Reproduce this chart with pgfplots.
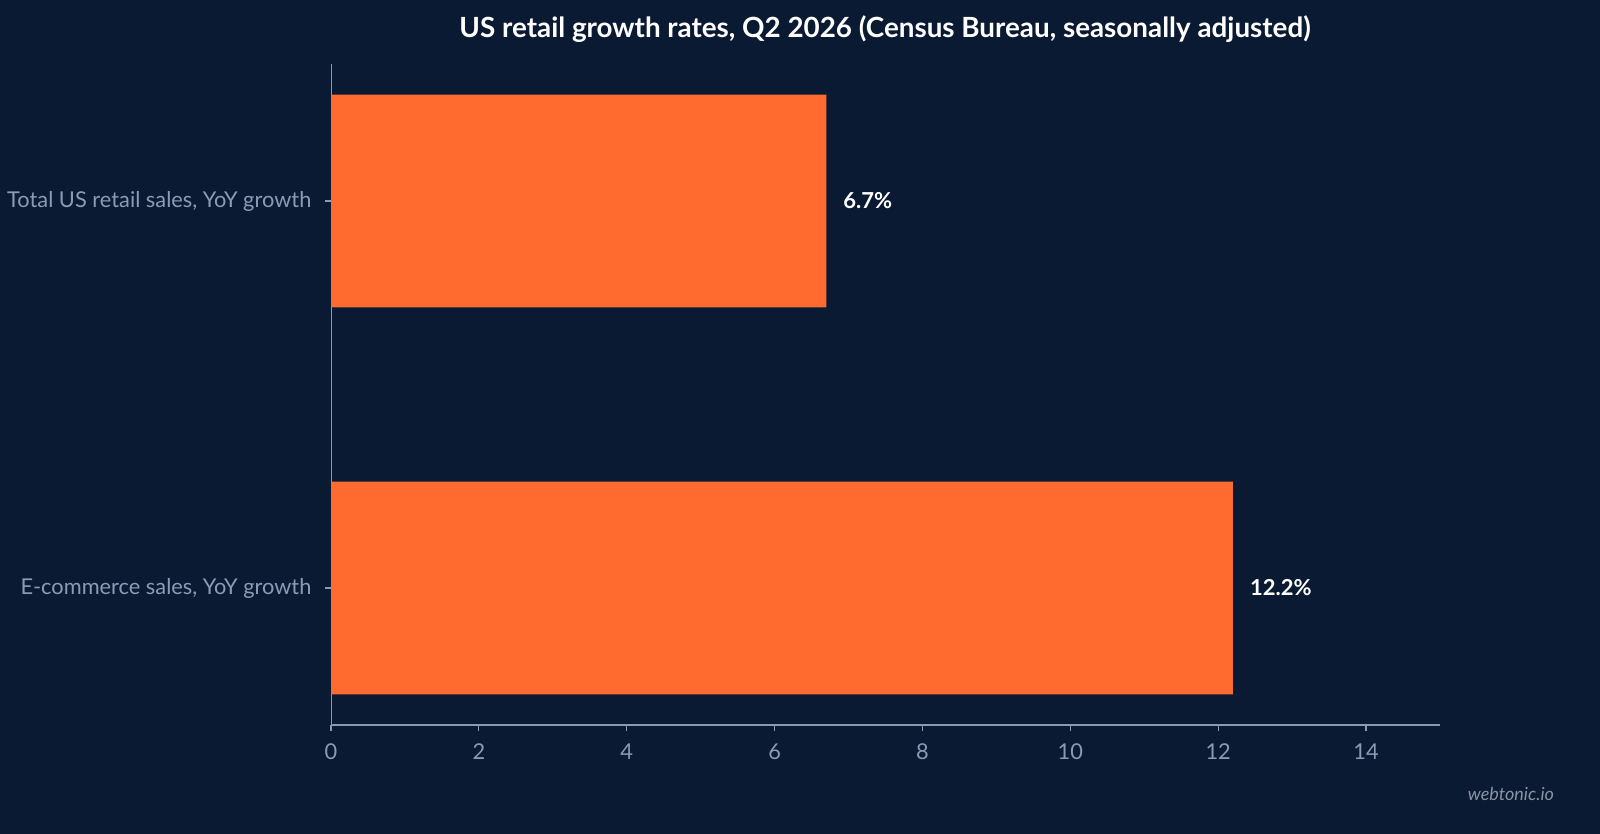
\documentclass[border=0pt]{standalone}
\usepackage{pgfplots}
\pgfplotsset{compat=1.18}
\usepackage{fontspec}
\setmainfont{Lato}
\definecolor{bg}{HTML}{0B1A33}
\definecolor{barc}{HTML}{FF6B2E}
\definecolor{tickc}{HTML}{8A9BB5}
\definecolor{axc}{HTML}{8C9AB0}
\definecolor{wm}{HTML}{8A93A3}
\pgfplotstableread{
y val
0 12.2
1 6.7
}\datatable
\begin{document}
\begin{tikzpicture}
\fill[bg] (0,0) rectangle (800pt,417pt);
\useasboundingbox (0,0) rectangle (800pt,417pt);
\begin{axis}[
  at={(165.5pt,54.5pt)}, anchor=south west,
  scale only axis, width=554.5pt, height=330.5pt,
  xbar, bar width=0.55,
  xmin=0, xmax=15, ymin=-0.354, ymax=1.354,
  axis x line*=bottom, axis y line*=left,
  x axis line style={axc, line width=1pt},
  y axis line style={axc, line width=0.5pt},
  xtick={0,2,...,14},
  ytick={0,1},
  yticklabels={E-commerce sales\textup{,} YoY growth, Total US retail sales\textup{,} YoY growth},
  tick align=outside,
  major tick length=3pt,
  tick style={axc, line width=0.6pt},
  ticklabel style={font=\fontsize{10.9}{13}\selectfont, text=tickc},
  yticklabel style={xshift=-3.3pt},
  xticklabel style={yshift=-3pt},
  /pgf/number format/assume math mode=true,
  nodes near coords={\pgfmathprintnumber[fixed,precision=1,fixed zerofill]{\pgfplotspointmeta}\%},
  every node near coord/.append style={font=\bfseries\fontsize{11}{13}\selectfont, text=white, anchor=west, xshift=5pt},
]
\addplot[fill=barc, draw=none] table[x=val, y=y] {\datatable};
\end{axis}
\node[font=\bfseries\fontsize{13.9}{17}\selectfont, text=white] at (442.5pt,402.5pt) {US retail growth rates, Q2 2026 (Census Bureau, seasonally adjusted)};
\node[font=\itshape\fontsize{9}{11}\selectfont, text=wm, anchor=east] at (780.5pt,20pt) {webtonic.io};
\end{tikzpicture}
\end{document}
